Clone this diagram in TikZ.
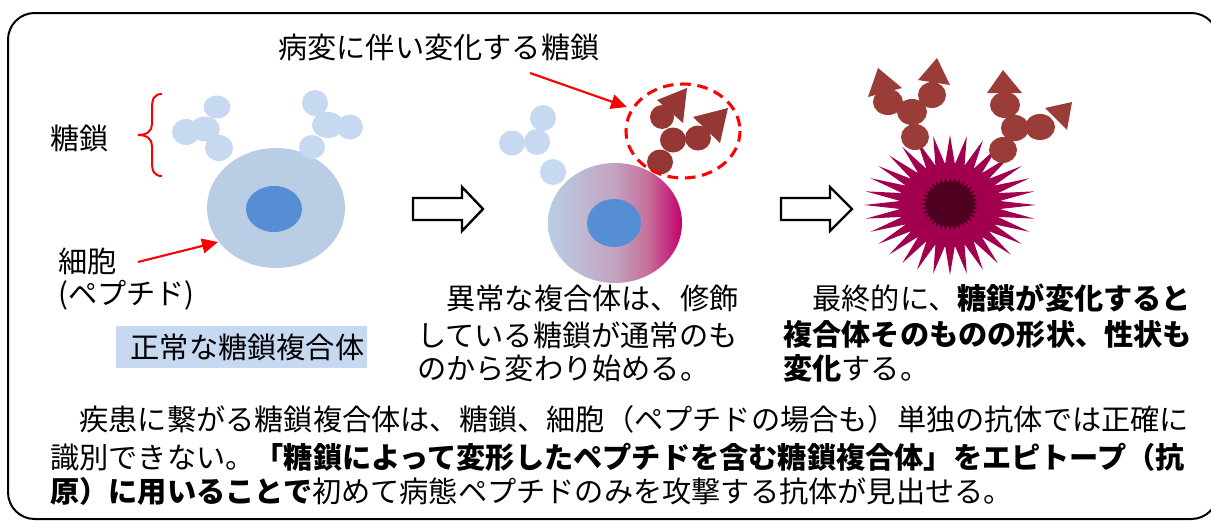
\documentclass[tikz,border=0pt]{standalone}
\usepackage{fontspec}
\newfontfamily\jp{Noto Sans CJK JP}
\usetikzlibrary{arrows.meta}

\definecolor{sugarblue}{HTML}{C6D9F1}
\definecolor{cellblue}{HTML}{B9CDE5}
\definecolor{nucblue}{HTML}{558ED5}
\definecolor{sickred}{HTML}{953735}
\definecolor{chainbrown}{HTML}{9A3D39}
\definecolor{starmag}{HTML}{A2004F}
\definecolor{stardark}{HTML}{4F0021}
\definecolor{gradq}{HTML}{BEB9D3}
\definecolor{gradmid}{HTML}{C3A2BF}
\definecolor{gradr}{HTML}{C7709C}
\definecolor{gradend}{HTML}{C4006A}

% blue-to-magenta sweep across the changing cell
\pgfdeclarehorizontalshading{cellshift}{100bp}{
  color(0bp)=(cellblue); color(25bp)=(cellblue); color(37bp)=(gradq);
  color(50bp)=(gradmid); color(62bp)=(gradr); color(75bp)=(gradend);
  color(100bp)=(gradend)}

% one sugar bead: centre x, centre y, x radius, y radius
\newcommand\bead[4]{\fill (#1,#2) ellipse [x radius=#3, y radius=#4];}

\begin{document}
\begin{tikzpicture}[x=0.75pt,y=-0.75pt,
  txt/.style={font=\jp\fontsize{21.9pt}{26pt}\selectfont, inner sep=0pt, anchor=west, text=black},
  redarrow/.style={draw=red, line width=1.6pt, -{Triangle[length=12pt,width=11pt]}},
  blockarrow/.style={draw=black, line width=1.8pt, fill=white, line join=miter},
]
\useasboundingbox (0,0) rectangle (1211,521);

% outer frame
\begin{scope}
\clip (0,0) rectangle (1211,521);
\draw[line width=1.5pt, rounded corners=20pt] (8,13) rectangle (1218,519);
\end{scope}

% ---------- normal complex ----------
\fill[cellblue] (276,208) ellipse [x radius=69, y radius=60];
\fill[nucblue] (274,209) ellipse [x radius=28, y radius=23];
\begin{scope}[sugarblue]
  \bead{217}{107}{13.5}{11.5}
  \bead{205}{129}{15}{12.5}
  \bead{186}{132}{14}{13}
  \bead{219}{148}{14}{13}
  \bead{315}{103}{13}{13}
  \bead{328}{125}{16}{13}
  \bead{350}{127}{13}{12.5}
  \bead{312}{147}{13}{12}
\end{scope}

% brace marking the sugar chains
\draw[red, line width=1.5pt] (162,94) .. controls (154,94) and (152,99) .. (152,108)
  -- (152,124) .. controls (152,131) and (147,135) .. (138,135)
  .. controls (147,135) and (152,139) .. (152,146)
  -- (152,162) .. controls (152,171) and (154,176) .. (162,176);

% ---------- changing complex ----------
\shade[shading=cellshift] (615,223) ellipse [x radius=67, y radius=60];
\fill[nucblue] (614,223) ellipse [x radius=27, y radius=24];
\begin{scope}[sugarblue]
  \bead{543}{118}{13}{13}
  \bead{537}{142}{13}{13}
  \bead{512}{143}{13}{12.5}
  \bead{553}{172}{13}{13}
\end{scope}
\begin{scope}[sickred]
  \bead{662}{117}{12}{12}
  \bead{673}{140}{13}{12.5}
  \bead{698}{138}{13}{12.5}
  \bead{660}{162}{13}{12.5}
  \fill (657,100) -- (687,88) -- (683,123) -- cycle;
  \fill (693,117) -- (728,108) -- (720,143) -- cycle;
\end{scope}
\draw[red, line width=2.3pt, dash pattern=on 8pt off 5pt] (683,131) ellipse [x radius=57, y radius=47];

% ---------- deformed complex ----------
\begin{scope}[shift={(950,205)}]
  \fill[starmag] (0,0) ellipse [x radius=51, y radius=42];
  \foreach \k in {0,...,31} {
    \fill[starmag] ({\k*11.25-5.625}:50 and 41) -- ({\k*11.25}:86 and 70)
      -- ({\k*11.25+5.625}:50 and 41) -- cycle;
  }
\end{scope}
\begin{scope}[shift={(950,204)}]
  \fill[stardark] (0,0) ellipse [x radius=24, y radius=22];
  \foreach \k in {0,...,35} {
    \fill[stardark] ({\k*10-5}:23.5 and 21.5) -- ({\k*10}:28 and 26)
      -- ({\k*10+5}:23.5 and 21.5) -- cycle;
  }
\end{scope}
\begin{scope}[chainbrown]
  \bead{888}{102}{15}{13}
  \bead{912}{112}{15}{13}
  \bead{932}{95}{14}{13}
  \bead{915}{137}{14}{13}
  \fill (878,68) -- (868,97) -- (902,88) -- cycle;
  \fill (937,58) -- (918,80) -- (950,85) -- cycle;
  \bead{1005}{105}{15}{13}
  \bead{1015}{128}{14}{13}
  \bead{1040}{127}{15}{13}
  \bead{1003}{150}{14}{13}
  \fill (1003,70) -- (987,93) -- (1022,93) -- cycle;
  \fill (1072,102) -- (1045,108) -- (1067,130) -- cycle;
\end{scope}

% ---------- block arrows between stages ----------
\begin{scope}[shift={(413,209)}]
  \draw[blockarrow] (0,-11) -- (49,-11) -- (49,-22) -- (70,0) -- (49,22) -- (49,11) -- (0,11) -- cycle;
\end{scope}
\begin{scope}[shift={(781,209)}]
  \draw[blockarrow] (0,-11) -- (49,-11) -- (49,-22) -- (71,0) -- (49,22) -- (49,11) -- (0,11) -- cycle;
\end{scope}

% ---------- labels ----------
\node[txt] (lblTop) at (278,47) {病変に伴い変化する糖鎖};
\node[txt] (lblSugar) at (50,138) {糖鎖};
\node[txt] (lblCell) at (58,261) {細胞};
\node[txt] (lblPep) at (58,295) {(ペプチド)};
\node[txt, fill=sugarblue, anchor=north west, minimum width=188pt, minimum height=31pt,
      text width=184pt, align=right, inner xsep=2pt] (normalbox) at (116,326) {正常な糖鎖複合体};

\coordinate (cellFrom) at (138,262);
\coordinate (cellTo) at (218,242);
\draw[redarrow] (cellFrom) -- (cellTo);
\coordinate (chainFrom) at (530,73);
\coordinate (chainTo) at (627,107);
\draw[redarrow] (chainFrom) -- (chainTo);

\node[txt] (midA) at (417,298) {　異常な複合体は、修飾};
\node[txt] (midB) at (417,335) {している糖鎖が通常のも};
\node[txt] (midC) at (417,368) {のから変わり始める。};

\node[txt] (endA) at (783,298) {　最終的に、\textbf{糖鎖が変化すると}};
\node[txt] (endB) at (783,335) {\textbf{複合体そのものの形状、性状も}};
\node[txt] (endC) at (783,368) {\textbf{変化}する。};

\node[txt] (sumA) at (50,419) {　疾患に繋がる糖鎖複合体は、糖鎖、細胞（ペプチドの場合も）単独の抗体では正確に};
\node[txt] (sumB) at (50,457) {識別できない。\textbf{「糖鎖によって変形したペプチドを含む糖鎖複合体」をエピトープ（抗}};
\node[txt] (sumC) at (50,491) {\textbf{原）に用いることで}初めて病態ペプチドのみを攻撃する抗体が見出せる。};
\end{tikzpicture}
\end{document}
